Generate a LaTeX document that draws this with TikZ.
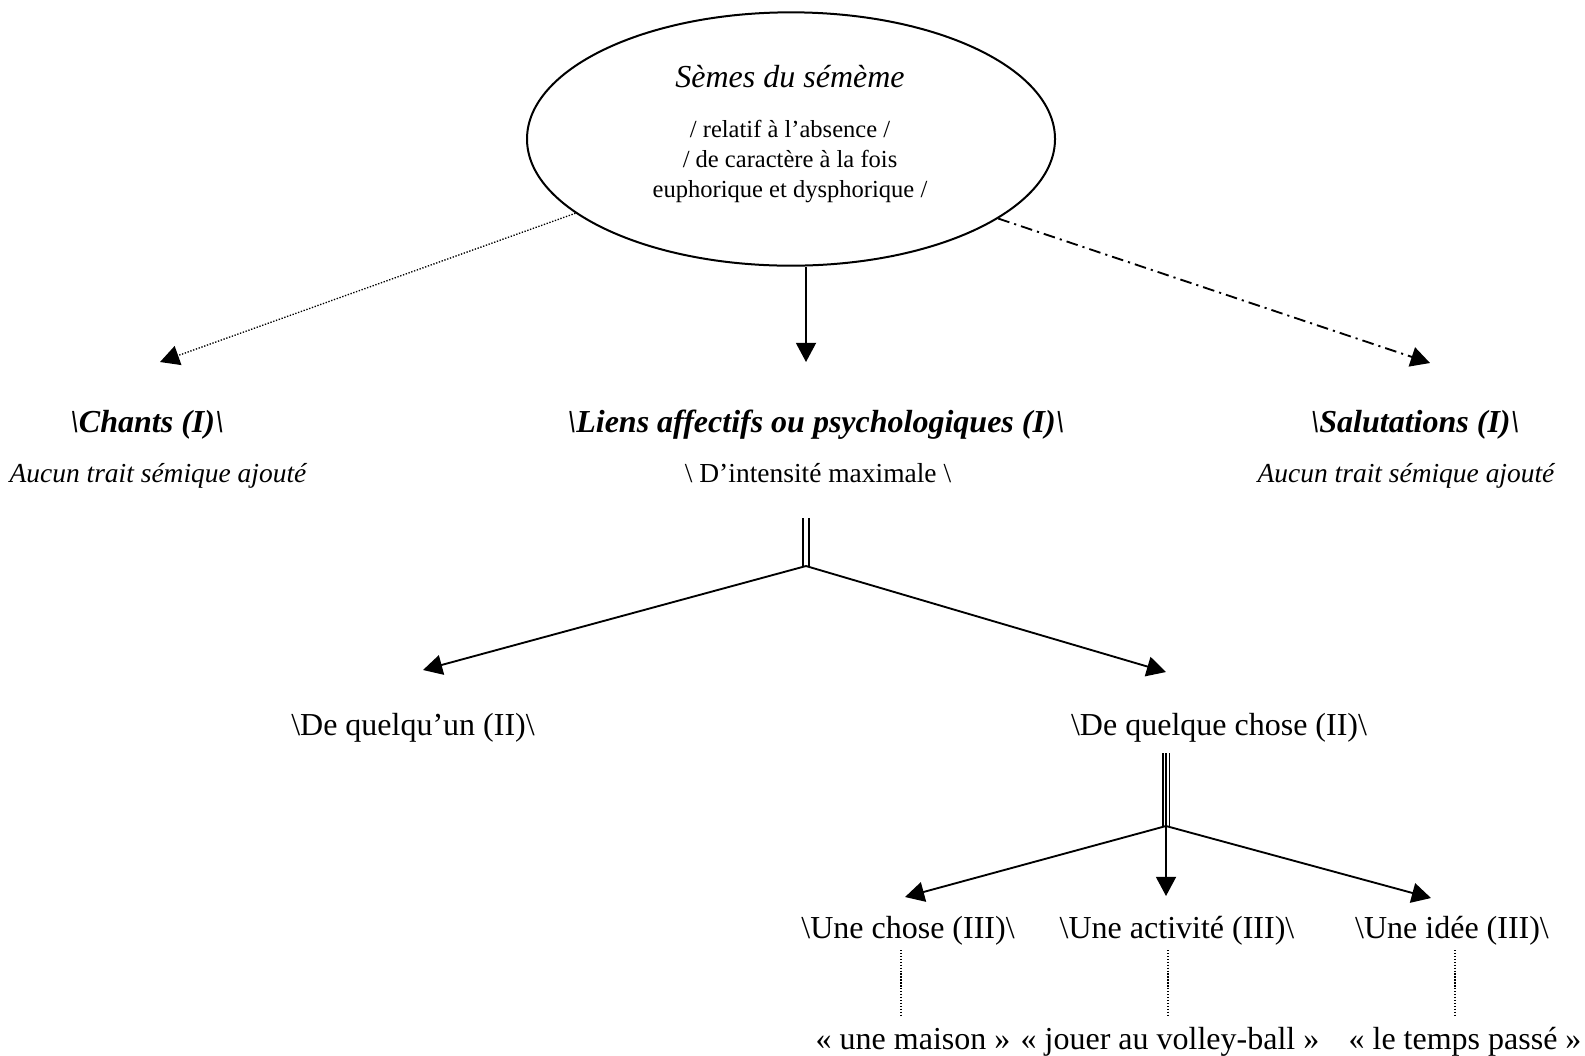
\documentclass[tikz,border=0pt]{standalone}
\usepackage{fontspec}
\setmainfont{Liberation Serif}
\usetikzlibrary{calc,arrows.meta,shapes.geometric}

\tikzset{
  fleche/.style={-{Triangle[length=7.2pt,width=7.5pt]},line width=0.7pt},
  pointille/.style={dash pattern=on 0.5pt off 0.6pt,line width=0.5pt},
  tiretpoint/.style={dash pattern=on 4.4pt off 1.9pt on 0.8pt off 1.9pt,line width=0.7pt},
  grand/.style={anchor=base,font=\fontsize{12}{14}\selectfont},
  petit/.style={anchor=base,font=\fontsize{10.3}{12}\selectfont},
  dedans/.style={anchor=base,font=\fontsize{9.2}{11}\selectfont}
}

\begin{document}
\begin{tikzpicture}[x=0.375pt,y=-0.375pt]
  \useasboundingbox (0,0) rectangle (1585,1055);
  % l'ellipse du haut
  \node[draw,ellipse,line width=0.75pt,minimum width=198pt,minimum height=95pt,inner sep=0pt](seme) at (791,139){};
  \node[grand,font=\fontsize{12}{14}\selectfont\itshape](titre) at (790,87){Sèmes du sémème};
  \foreach \i/\y/\t in {1/137/{/ relatif à l’absence /},2/167/{/ de caractère à la fois},3/197/{euphorique et dysphorique /}}{%
    \node[dedans](trait\i) at (790,\y){\t};
  }
  % niveau I
  \foreach \nom/\x/\t in {chants/147/Chants,liens/816/Liens affectifs ou psychologiques,salut/1415/Salutations}{%
    \node[grand,font=\fontsize{12}{14}\selectfont\bfseries\itshape](\nom) at (\x,432){\textbackslash\t\ (I)\textbackslash};
  }
  \node[petit,font=\fontsize{10.3}{12}\selectfont\itshape](aucunA) at (158,482){Aucun trait sémique ajouté};
  \node[petit](intens) at (818,482){\textbackslash\ D’intensité maximale \textbackslash};
  \node[petit,font=\fontsize{10.3}{12}\selectfont\itshape](aucunB) at (1406,482){Aucun trait sémique ajouté};
  % niveau II
  \node[grand](quelquun) at (413,735){\textbackslash De quelqu’un (II)\textbackslash};
  \node[grand](quelquechose) at (1219,735){\textbackslash De quelque chose (II)\textbackslash};
  % niveau III
  \foreach \nom/\x/\t in {chose/908/Une chose,activite/1177/Une activité,idee/1452/Une idée}{%
    \node[grand](\nom) at (\x,938){\textbackslash\t\ (III)\textbackslash};
  }
  \foreach \nom/\x/\t in {maison/913/une maison,volley/1170/jouer au volley-ball,temps/1465/le temps passé}{%
    \node[grand](\nom) at (\x,1049){«~\t~»};
  }
  % pointes et noeuds
  \coordinate (pChants) at (160,362);
  \coordinate (pLiens) at (806,362);
  \coordinate (pSalut) at (1430,363);
  \coordinate (dA) at (806,518);
  \coordinate (nA) at (806,566);
  \coordinate (pQuelquun) at (423,670);
  \coordinate (pChose) at (1166,672);
  \coordinate (dB) at (1166,753);
  \coordinate (nB) at (1166,826);
  \coordinate (pUne) at (905,897);
  \coordinate (pActiv) at (1166,896);
  \coordinate (pIdee) at (1431,898);
  \draw[fleche,pointille] (seme.199.5) -- (pChants);
  \draw[fleche] (seme.south -| pLiens) -- (pLiens);
  \draw[fleche,tiretpoint] (seme.-21) -- (pSalut);
  \draw[double,double distance=1.8pt,line width=0.45pt] (dA) -- (nA);
  \draw[fleche] (nA) -- (pQuelquun);
  \draw[fleche] (nA) -- (pChose);
  \foreach \dx in {-3.3,0,3.3}{%
    \draw[line width=0.6pt] ($(dB)+(\dx,0)$) -- ($(nB)+(\dx,0)$);
  }
  \foreach \p in {pUne,pActiv,pIdee}{%
    \draw[fleche] (nB) -- (\p);
  }
  % traits vers les exemples
  \foreach \x in {901,1168,1455}{%
    \coordinate (h\x) at (\x,950);
    \coordinate (b\x) at (\x,1016);
    \draw[pointille] (h\x) -- (b\x);
  }
\end{tikzpicture}
\end{document}
